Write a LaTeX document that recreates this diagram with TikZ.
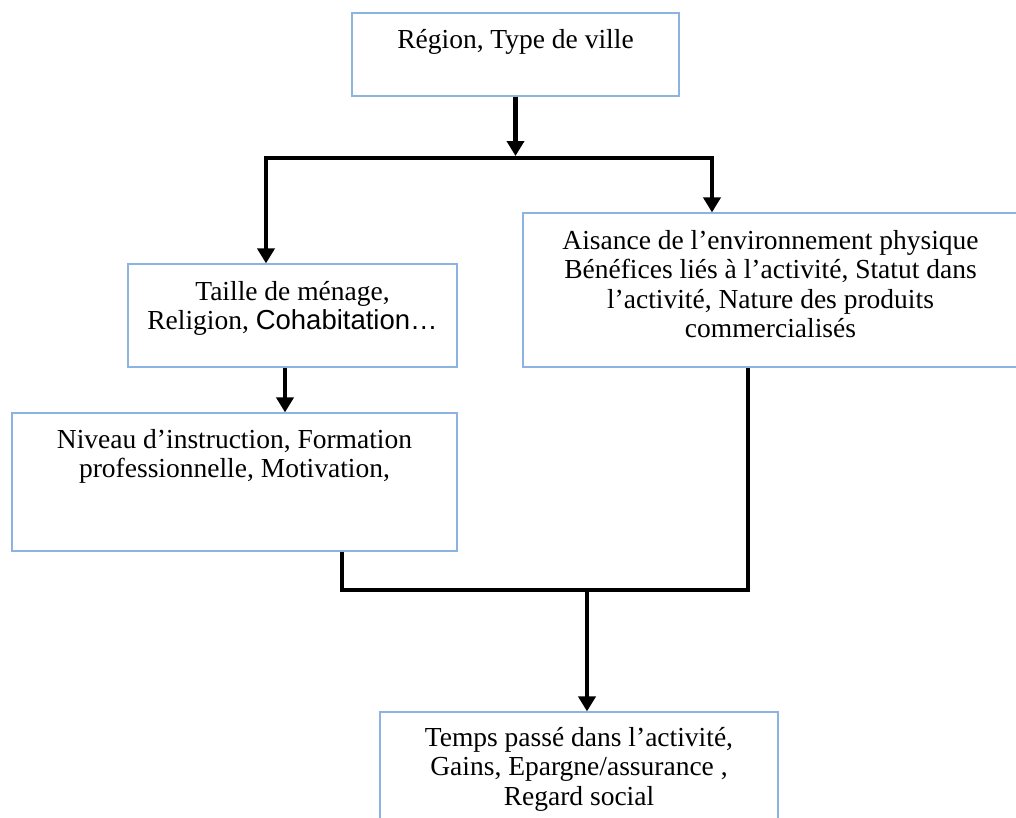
\documentclass[tikz,border=0pt]{standalone}
\usepackage{fontspec}
\setmainfont{Liberation Serif}
\newfontfamily\arialfont{Liberation Sans}
\usetikzlibrary{arrows.meta}
\definecolor{boxblue}{RGB}{141,179,226}
\newcommand{\boxtext}[4]{\parbox[c][#2][t]{#1}{\centering\vspace*{#3}\strut #4}}
\begin{document}
\begin{tikzpicture}[>={Triangle[width=17bp,length=15bp]},line join=miter,
  vbox/.style={draw=boxblue,line width=1.2bp,inner sep=0pt},
  conn/.style={black,line width=4.6bp},
  font=\fontsize{27.5bp}{29.5bp}\selectfont]
%%
\useasboundingbox (0,0) rectangle (1016bp,-818bp);
\clip (0,0) rectangle (1016bp,-818bp);
\node (region) at (515.5bp,-54.5bp) [vbox] {\boxtext{327bp}{83bp}{14.4bp}{Région, Type de ville}};
  \node (menage) at (292.5bp,-315.5bp) [vbox] {\boxtext{329bp}{103bp}{15.4bp}{Taille de ménage,\\ Religion, {\arialfont Cohabitation…}}};
  \node (environ) at (770.5bp,-290bp) [vbox] {\boxtext{495bp}{154bp}{15.4bp}{Aisance de l’environnement physique\\ Bénéfices liés à l’activité, Statut dans\\ l’activité, Nature des produits\\ commercialisés}};
  \node (instruction) at (234.5bp,-482bp) [vbox] {\boxtext{445bp}{138bp}{14.4bp}{Niveau d’instruction, Formation\\ professionnelle, Motivation,}};
  \node (temps) at (579bp,-771bp) [vbox] {\boxtext{398bp}{118bp}{13.4bp}{Temps passé dans l’activité,\\ Gains, Epargne/assurance ,\\ Regard social}};
%
\coordinate (fork) at (515.5bp,-158bp);
  \coordinate (fork l) at (266bp,-158bp);
  \coordinate (fork r) at (712bp,-158bp);
  \coordinate (drop m) at (285bp,-400bp);
  \coordinate (merge l) at (342bp,-590bp);
  \coordinate (merge r) at (748bp,-590bp);
  \coordinate (merge) at (587bp,-590bp);
  \draw [conn,->,shorten >=2bp] (region) -- (fork);
  \draw [conn,<->] (menage.north -| fork l) -- (fork l) -- (fork r) -- (environ.north -| fork r);
  \draw [conn,->] (menage.south -| drop m) -- (instruction.north -| drop m);
  \draw [conn] (instruction.south -| merge l) -- (merge l) -- (merge r) -- (environ.south -| merge r);
  \draw [conn,->] (merge) -- (temps.north -| merge);
%
\end{tikzpicture}
\end{document}
